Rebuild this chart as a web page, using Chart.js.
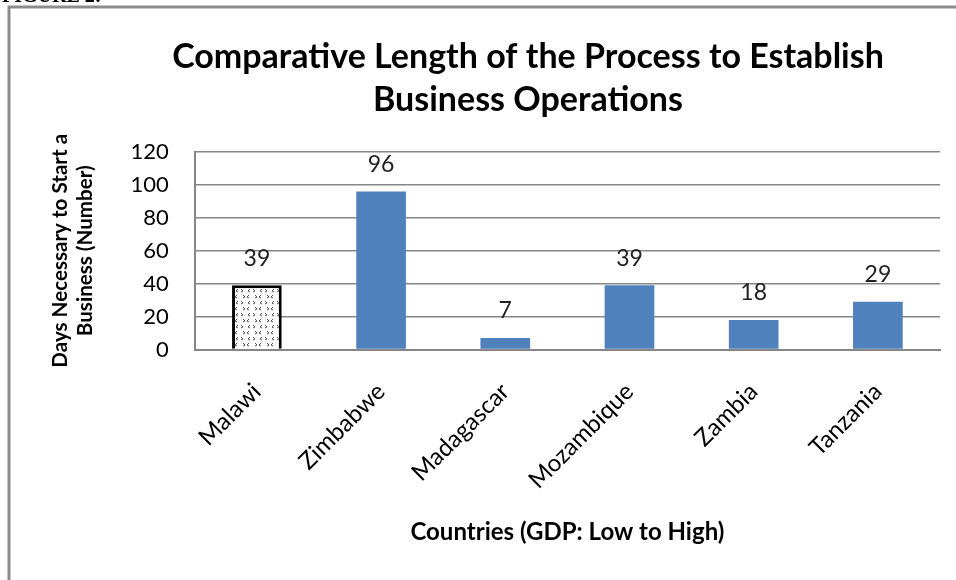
<!DOCTYPE html>
<html>
<head>
<meta charset="utf-8">
<script src="https://cdn.jsdelivr.net/npm/chart.js@4/dist/chart.umd.min.js"></script>
<style>
  html, body { margin: 0; padding: 0; background: #fff; }
  canvas { display: block; }
</style>
</head>
<body>
<canvas id="chart" width="956" height="580"></canvas>
<script>
// Countries, ordered by GDP (low to high)
const countries = ['Malawi', 'Zimbabwe', 'Madagascar', 'Mozambique', 'Zambia', 'Tanzania'];
// Days necessary to start a business
const days = [39, 96, 7, 39, 18, 29];
// Y axis range
const yMax = 120;
const yStep = 20;
// Two-line heading
const titleLines = ['Comparative Length of the Process to Establish', 'Business Operations'];

const blue = '#4F81BD';
const gridGray = '#868686';

/**
 * Dotted fill used to highlight Malawi
 */
function makePattern() {
  const tile = document.createElement('canvas');
  tile.width = 12;
  tile.height = 12;
  const c = tile.getContext('2d');
  c.fillStyle = '#fff';
  c.fillRect(0, 0, 12, 12);
  c.strokeStyle = '#555';
  c.lineWidth = 1;
  // little arrow heads, alternating direction
  c.beginPath();
  c.moveTo(1, 1); c.lineTo(3, 3); c.lineTo(1, 4);
  c.moveTo(10, 1); c.lineTo(8, 3); c.lineTo(10, 4);
  c.moveTo(9, 7); c.lineTo(7, 9); c.lineTo(9, 10);
  c.moveTo(3, 7); c.lineTo(5, 9); c.lineTo(3, 10);
  c.stroke();
  return c.createPattern(tile, 'repeat');
}

const pattern = makePattern();

// Outer frame, plus the caption cut off at the top edge
const framePlugin = {
  id: 'frame',
  beforeDraw(chart) {
    const { ctx } = chart;
    ctx.save();
    ctx.fillStyle = '#fff';
    ctx.fillRect(0, 0, chart.width, chart.height);
    ctx.strokeStyle = '#8c8c8c';
    ctx.lineWidth = 3;
    ctx.beginPath();
    ctx.moveTo(9, chart.height + 5);
    ctx.lineTo(9, 7);
    ctx.lineTo(chart.width + 5, 7);
    ctx.stroke();
    ctx.fillStyle = '#000';
    ctx.font = 'bold 20px "Liberation Serif"';
    ctx.textBaseline = 'alphabetic';
    ctx.fillText('FIGURE 2:', 2, 2);
    ctx.restore();
  },
};

// Heading, drawn by hand so it can sit a little right of the canvas centre
const headingPlugin = {
  id: 'heading',
  afterDraw(chart) {
    const { ctx } = chart;
    ctx.save();
    ctx.fillStyle = '#000';
    ctx.font = 'bold 34px Lato';
    ctx.textAlign = 'center';
    ctx.textBaseline = 'middle';
    titleLines.forEach((line, i) => {
      ctx.fillText(line, 528, 57 + i * 43);
    });
    ctx.restore();
  },
};

// Value labels above each bar
const valueLabels = {
  id: 'valueLabels',
  afterDatasetsDraw(chart) {
    const { ctx } = chart;
    const meta = chart.getDatasetMeta(0);
    ctx.save();
    ctx.fillStyle = '#222';
    ctx.font = '23px Lato';
    ctx.textAlign = 'center';
    ctx.textBaseline = 'middle';
    meta.data.forEach((bar, i) => {
      ctx.fillText(String(days[i]), bar.x, bar.y - 27);
    });
    ctx.restore();
  },
};

const chart = new Chart(document.getElementById('chart').getContext('2d'), {
  type: 'bar',
  data: {
    labels: countries,
    datasets: [{
      data: days,
      backgroundColor: days.map((d, i) => (i === 0 ? pattern : blue)),
      borderColor: days.map((d, i) => (i === 0 ? '#000' : blue)),
      borderWidth: days.map((d, i) => (i === 0 ? { top: 3, left: 3, right: 3, bottom: 0 } : 0)),
      categoryPercentage: 1,
      barPercentage: 0.4,
    }],
  },
  options: {
    responsive: false,
    animation: false,
    layout: {
      padding: { left: 47, right: 16, top: 152, bottom: 33 },
    },
    plugins: {
      legend: { display: false },
      tooltip: { enabled: false },
      title: { display: false },
    },
    scales: {
      x: {
        grid: { display: false, drawTicks: false },
        border: { color: gridGray, width: 2 },
        ticks: {
          color: '#000',
          font: { family: 'Lato', size: 24 },
          minRotation: 45,
          maxRotation: 45,
          padding: 28,
        },
        title: {
          display: true,
          text: 'Countries (GDP: Low to High)',
          color: '#000',
          font: { family: 'Lato', size: 24, weight: 'bold' },
          padding: { top: 34, bottom: 0 },
        },
      },
      y: {
        min: 0,
        max: yMax,
        grid: { color: gridGray, lineWidth: 1.5, drawTicks: false },
        border: { color: gridGray, width: 2 },
        ticks: {
          stepSize: yStep,
          color: '#000',
          font: { family: 'Lato', size: 22 },
          padding: 26,
        },
        title: {
          display: true,
          text: ['Days Necessary to Start a', 'Business (Number)'],
          color: '#000',
          font: { family: 'Lato', size: 20.6, weight: 'bold', lineHeight: 1.25 },
          padding: { top: 0, bottom: 6 },
        },
      },
    },
  },
  plugins: [framePlugin, headingPlugin, valueLabels],
});
</script>
</body>
</html>
